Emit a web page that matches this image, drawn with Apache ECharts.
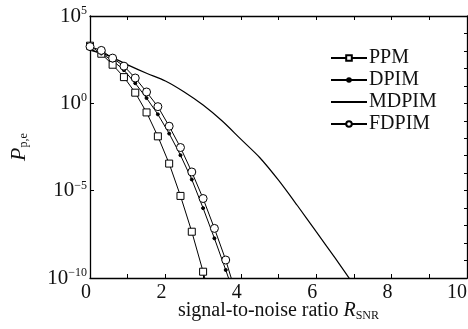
<!DOCTYPE html>
<html>
<head>
<meta charset="utf-8">
<script src="https://cdn.jsdelivr.net/npm/echarts@6/dist/echarts.min.js"></script>
<style>
    html, body { margin: 0; padding: 0; background: #fff; }
    #chart { width: 468px; height: 329px; }
</style>
</head>
<body>
<div id="chart"></div>
<script>
    // ------------------------------
    // Data (log10 of Pp,e)
    // ------------------------------
    var ppmSnr = [0, 0.3, 0.6, 0.9, 1.2, 1.5, 1.8, 2.1, 2.4, 2.7, 3.0, 3.3];
    var ppmLog = [3.3, 2.84, 2.21, 1.5, 0.61, -0.52, -1.89, -3.45, -5.3, -7.35, -9.64, -12.1];

    var dpimSnr = [0, 0.3, 0.6, 0.9, 1.2, 1.5, 1.8, 2.1, 2.4, 2.7, 3.0, 3.3, 3.6, 3.9];
    var dpimLog = [3.1, 2.85, 2.45, 1.9, 1.15, 0.3, -0.63, -1.73, -2.97, -4.36, -6.0, -7.73, -9.54, -11.4];

    var mdpimSnr = [0, 0.5, 1.0, 1.5, 2.0, 2.5, 3.0, 3.5, 4.0, 4.5, 5.0, 5.5, 6.0, 6.5, 7.0];
    var mdpimLog = [3.05, 2.72, 2.2, 1.72, 1.28, 0.65, -0.1, -1.0, -2.05, -3.1, -4.4, -5.85, -7.35, -8.85, -10.4];

    var fdpimSnr = [0, 0.3, 0.6, 0.9, 1.2, 1.5, 1.8, 2.1, 2.4, 2.7, 3.0, 3.3, 3.6, 3.9];
    var fdpimLog = [3.25, 3.03, 2.59, 2.13, 1.45, 0.65, -0.19, -1.31, -2.53, -3.93, -5.45, -7.16, -8.97, -11.1];

    var xTicks = [0, 2, 4, 6, 8, 10];
    var yTickExps = [5, 0, -5, -10];

    function toPoints(xs, logs) {
        return xs.map(function (x, i) {
            return [x, Math.pow(10, logs[i])];
        });
    }

    var serif = 'Liberation Serif';
    var ink = '#111';

    var chart = echarts.init(document.getElementById('chart'));
    var option = {
        backgroundColor: '#fff',
        animation: false,
        textStyle: { fontFamily: serif, color: ink },

        // Add legend
        legend: {
            orient: 'vertical',
            left: 325,
            top: 43,
            itemWidth: 36,
            itemHeight: 7,
            itemGap: 2,
            textStyle: { fontFamily: serif, fontSize: 20, color: ink, padding: [0, 0, 0, -3] },
            data: ['PPM', 'DPIM', { name: 'MDPIM', itemStyle: { opacity: 0 } }, 'FDPIM']
        },

        grid: {
            left: 90,
            top: 16,
            right: 1,
            bottom: 51,
            outerBoundsMode: 'none',
            containLabel: false
        },

        xAxis: [{
            type: 'value',
            min: 0,
            max: 10,
            interval: 1,
            name: '{t|signal-to-noise ratio }{i|R}{s|SNR}',
            nameLocation: 'middle',
            nameGap: 22,
            nameMoveOverlap: false,
            nameTextStyle: {
                rich: {
                    t: { fontFamily: serif, fontSize: 20, color: ink },
                    i: { fontFamily: serif, fontSize: 20, fontStyle: 'italic', color: ink },
                    s: { fontFamily: serif, fontSize: 12, color: ink, padding: [10, 0, 0, 0] }
                }
            },
            axisLine: { show: true, lineStyle: { color: '#000', width: 1.3 } },
            axisTick: { show: true, inside: true, length: 4, lineStyle: { color: '#000' } },
            axisLabel: {
                interval: 1,
                margin: 5,
                alignMaxLabel: 'right',
                formatter: function (v) {
                    if (xTicks.indexOf(v) < 0) return '';
                    return v === 10 ? '{r|' + v + '}' : '{n|' + v + '}';
                },
                rich: {
                    n: { fontFamily: serif, fontSize: 20, color: ink, padding: [0, 8, 0, 0] },
                    r: { fontFamily: serif, fontSize: 20, color: ink }
                }
            },
            splitLine: { show: false }
        }, {
            type: 'value',
            position: 'top',
            min: 0,
            max: 10,
            interval: 1,
            axisLine: { show: true, onZero: false, lineStyle: { color: '#000', width: 1.3 } },
            axisTick: { show: true, inside: true, length: 4, lineStyle: { color: '#000' } },
            axisLabel: { show: false },
            splitLine: { show: false }
        }],

        yAxis: [{
            type: 'log',
            logBase: 10,
            min: 1e-10,
            max: 1e5,
            interval: 5,
            axisLine: { show: true, onZero: false, lineStyle: { color: '#000', width: 1.3 } },
            axisTick: { show: true, inside: true, length: 4, lineStyle: { color: '#000' } },
            axisLabel: {
                margin: 3,
                formatter: function (v) {
                    var e = Math.round(Math.log(v) / Math.LN10);
                    if (yTickExps.indexOf(e) < 0) return '';
                    return '{b|10}{s|' + (e < 0 ? '\u2212' + (-e) : e) + '}';
                },
                rich: {
                    b: { fontFamily: serif, fontSize: 21, color: ink },
                    s: { fontFamily: serif, fontSize: 12, color: ink, padding: [0, 0, 10, 0] }
                }
            },
            name: '{p|P}{s|p,e}',
            nameLocation: 'middle',
            nameRotate: 90,
            nameGap: 60,
            nameMoveOverlap: false,
            nameTextStyle: {
                rich: {
                    p: { fontFamily: serif, fontSize: 22, fontStyle: 'italic', color: ink },
                    s: { fontFamily: serif, fontSize: 12, color: ink, padding: [10, 0, 0, 0] }
                }
            },
            splitLine: { show: false }
        }, {
            type: 'log',
            logBase: 10,
            position: 'right',
            min: 1e-10,
            max: 1e5,
            interval: 1,
            axisLine: { show: true, onZero: false, lineStyle: { color: '#000', width: 1.3 } },
            axisTick: { show: true, inside: true, length: 3, lineStyle: { color: '#000' } },
            axisLabel: { show: false },
            splitLine: { show: false }
        }],

        // Add series
        series: [{
            name: 'PPM',
            type: 'line',
            data: toPoints(ppmSnr, ppmLog),
            symbol: 'rect',
            symbolSize: 7,
            itemStyle: { color: '#fff', borderColor: '#000', borderWidth: 1 },
            lineStyle: { color: '#000', width: 1 },
            clip: true,
            z: 3
        }, {
            name: 'DPIM',
            type: 'line',
            data: toPoints(dpimSnr, dpimLog),
            symbol: 'circle',
            symbolSize: 3,
            itemStyle: { color: '#000', borderColor: '#000' },
            lineStyle: { color: '#000', width: 1 },
            clip: true
        }, {
            name: 'MDPIM',
            type: 'line',
            data: toPoints(mdpimSnr, mdpimLog),
            symbol: 'none',
            smooth: 0.3,
            itemStyle: { color: '#000' },
            lineStyle: { color: '#000', width: 1.2 },
            clip: true
        }, {
            name: 'FDPIM',
            type: 'line',
            data: toPoints(fdpimSnr, fdpimLog),
            symbol: 'circle',
            symbolSize: 8,
            itemStyle: { color: '#fff', borderColor: '#000', borderWidth: 1 },
            lineStyle: { color: '#000', width: 1 },
            clip: true,
            z: 3
        }]
    };

    chart.setOption(option);
</script>
</body>
</html>
